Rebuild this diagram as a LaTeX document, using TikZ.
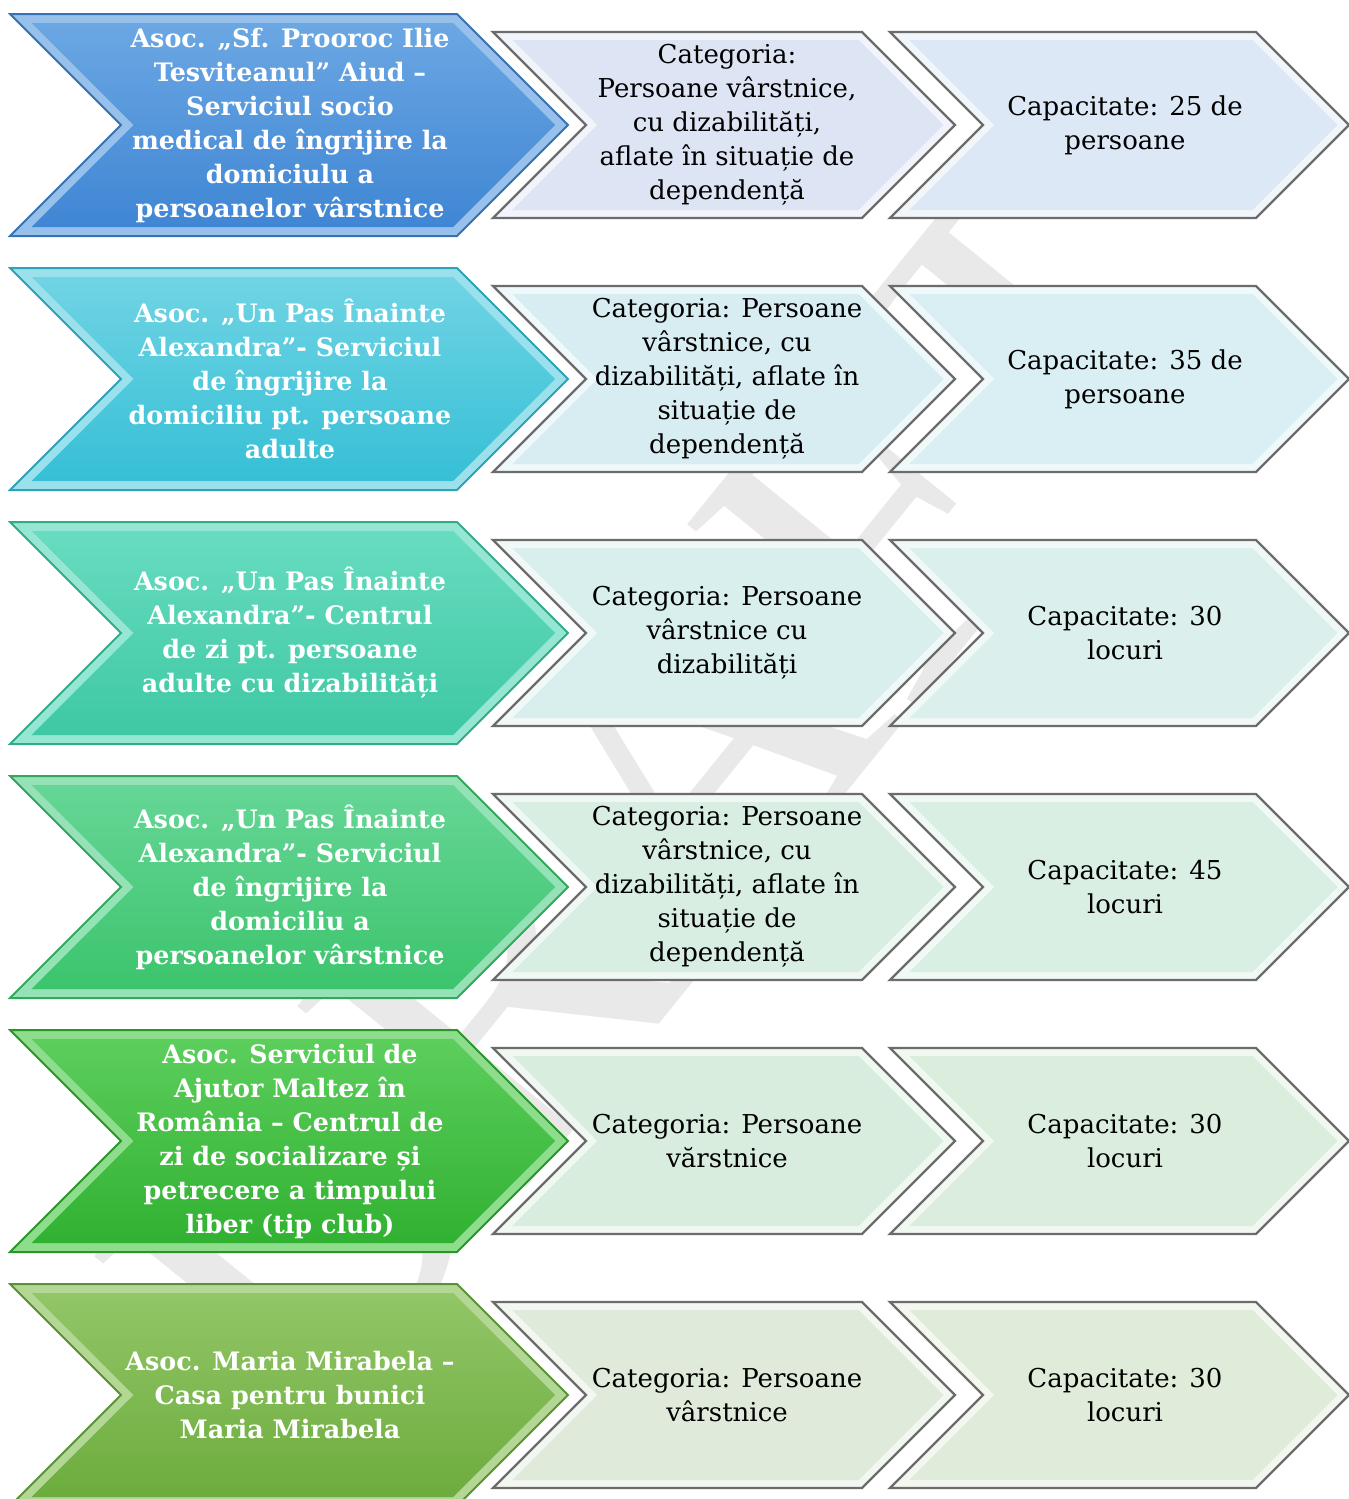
\documentclass[tikz,border=0pt]{standalone}
\usepackage{fontspec}
\setmainfont{DejaVu Serif}
\newfontfamily\wmfont{Liberation Serif}
\usepackage{tikz}
\usepackage{xcolor}

\definecolor{blueA}{HTML}{6BA7E3}\definecolor{blueB}{HTML}{3F86D4}
\definecolor{cyanA}{HTML}{70D4E4}\definecolor{cyanB}{HTML}{36BFD6}
\definecolor{tealA}{HTML}{68DCC0}\definecolor{tealB}{HTML}{3EC8A3}
\definecolor{mintA}{HTML}{66D696}\definecolor{mintB}{HTML}{3CC46D}
\definecolor{leafA}{HTML}{5CCE5C}\definecolor{leafB}{HTML}{31B131}
\definecolor{oliveA}{HTML}{92C666}\definecolor{oliveB}{HTML}{6CAC3E}

\definecolor{paleA1}{HTML}{DDE4F4}\definecolor{paleB1}{HTML}{DCE8F5}
\definecolor{paleA2}{HTML}{D8EDF2}\definecolor{paleB2}{HTML}{DAEFF3}
\definecolor{paleA3}{HTML}{D9EFEE}\definecolor{paleB3}{HTML}{DBF0ED}
\definecolor{paleA4}{HTML}{D8EEE2}\definecolor{paleB4}{HTML}{DAEFE3}
\definecolor{paleA5}{HTML}{D9EDDF}\definecolor{paleB5}{HTML}{DBEEDE}
\definecolor{paleA6}{HTML}{DFEADB}\definecolor{paleB6}{HTML}{E0ECDA}

% #1 left x, #2 centre y, #3 body width, #4 half height, #5 style
\newcommand{\chevron}[5]{%
  \path[#5] (#1,{#2-#4}) -- ({#1+#3},{#2-#4}) -- ({#1+#3+#4},#2)
    -- ({#1+#3},{#2+#4}) -- (#1,{#2+#4}) -- ({#1+#4},#2) -- cycle;}

% big chevron (bevel + face), row centre #1, colours #2 #3
\newcommand{\bigchev}[3]{%
  \chevron{10}{#1}{447}{111}{fill=#2!70!white, draw=#3!85!black, line width=1}
  \chevron{31.7}{#1}{421.5}{102}{top color=#2, bottom color=#3}}

% small chevrons of a row, row centre #1, colours #2 #3
\newcommand{\smallchevs}[3]{%
  \chevron{493}{#1}{369}{93}{fill=#2!40!white, draw=gray!85!black, line width=1.2}
  \chevron{512.3}{#1}{346.4}{85}{fill=#2}
  \chevron{890}{#1}{366}{93}{fill=#3!40!white, draw=gray!85!black, line width=1.2}
  \chevron{909.3}{#1}{343.4}{85}{fill=#3}}

\begin{document}
\begin{tikzpicture}[x=0.5pt, y=-0.5pt,
    bigtxt/.style={text=white, align=center, font=\bfseries\fontsize{12.7}{17}\selectfont},
    smalltxt/.style={text=black, align=center, font=\fontsize{13}{17}\selectfont},
    wmark/.style={text=gray!17, rotate=51, font=\wmfont\fontsize{223}{223}\selectfont}]
  \useasboundingbox (0,0) rectangle (1349,1499);
  \fill[white] (0,0) rectangle (1349,1499);
  \node[wmark] (wm) at (660,790) {DRAFT};

  \bigchev{125}{blueA}{blueB}
  \smallchevs{125}{paleA1}{paleB1}
  \node[bigtxt] (org1) at (290,125) {Asoc. „Sf. Prooroc Ilie\\Tesviteanul” Aiud –\\Serviciul socio\\medical de îngrijire la\\domiciulu a\\persoanelor vârstnice};
  \node[smalltxt] (cat1) at (727,125) {Categoria:\\Persoane vârstnice,\\cu dizabilități,\\aflate în situație de\\dependență};
  \node[smalltxt] (cap1) at (1125,125) {Capacitate: 25 de\\persoane};

  \bigchev{379}{cyanA}{cyanB}
  \smallchevs{379}{paleA2}{paleB2}
  \node[bigtxt] (org2) at (290,379) {Asoc. „Un Pas Înainte\\Alexandra”- Serviciul\\de îngrijire la\\domiciliu pt. persoane\\adulte};
  \node[smalltxt] (cat2) at (727,379) {Categoria: Persoane\\vârstnice, cu\\dizabilități, aflate în\\situație de\\dependență};
  \node[smalltxt] (cap2) at (1125,379) {Capacitate: 35 de\\persoane};

  \bigchev{633}{tealA}{tealB}
  \smallchevs{633}{paleA3}{paleB3}
  \node[bigtxt] (org3) at (290,633) {Asoc. „Un Pas Înainte\\Alexandra”- Centrul\\de zi pt. persoane\\adulte cu dizabilități};
  \node[smalltxt] (cat3) at (727,633) {Categoria: Persoane\\vârstnice cu\\dizabilități};
  \node[smalltxt] (cap3) at (1125,633) {Capacitate: 30\\locuri};

  \bigchev{887}{mintA}{mintB}
  \smallchevs{887}{paleA4}{paleB4}
  \node[bigtxt] (org4) at (290,887) {Asoc. „Un Pas Înainte\\Alexandra”- Serviciul\\de îngrijire la\\domiciliu a\\persoanelor vârstnice};
  \node[smalltxt] (cat4) at (727,887) {Categoria: Persoane\\vârstnice, cu\\dizabilități, aflate în\\situație de\\dependență};
  \node[smalltxt] (cap4) at (1125,887) {Capacitate: 45\\locuri};

  \bigchev{1141}{leafA}{leafB}
  \smallchevs{1141}{paleA5}{paleB5}
  \node[bigtxt] (org5) at (290,1141) {Asoc. Serviciul de\\Ajutor Maltez în\\România – Centrul de\\zi de socializare și\\petrecere a timpului\\liber (tip club)};
  \node[smalltxt] (cat5) at (727,1141) {Categoria: Persoane\\vărstnice};
  \node[smalltxt] (cap5) at (1125,1141) {Capacitate: 30\\locuri};

  \bigchev{1395}{oliveA}{oliveB}
  \smallchevs{1395}{paleA6}{paleB6}
  \node[bigtxt] (org6) at (290,1395) {Asoc. Maria Mirabela –\\Casa pentru bunici\\Maria Mirabela};
  \node[smalltxt] (cat6) at (727,1395) {Categoria: Persoane\\vârstnice};
  \node[smalltxt] (cap6) at (1125,1395) {Capacitate: 30\\locuri};
\end{tikzpicture}
\end{document}
